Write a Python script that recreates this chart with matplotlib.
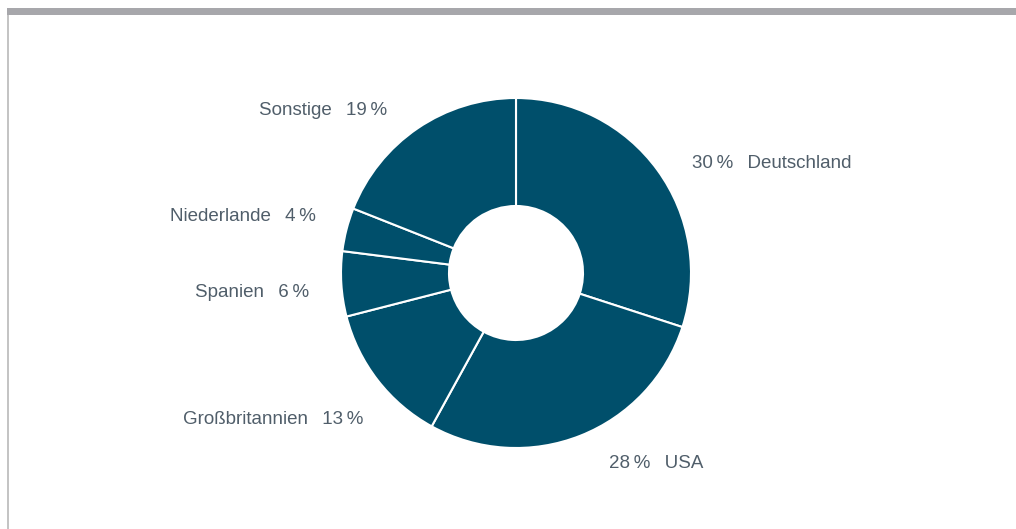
import numpy as np
import matplotlib
matplotlib.use("Agg")
import matplotlib.pyplot as plt
from matplotlib.patches import Rectangle

categories = ["Deutschland", "USA", "Großbritannien", "Spanien", "Niederlande", "Sonstige"]
values = [30, 28, 13, 6, 4, 19]

W, H = 1016, 529
fig = plt.figure(figsize=(W / 100, H / 100), dpi=100)
fig.patch.set_facecolor("white")

# frame decorations
fig.add_artist(Rectangle((7 / W, 1 - 15 / H), 1 - 7 / W, 7 / H, transform=fig.transFigure,
                         facecolor="#a7a7ab", edgecolor="none"))
fig.add_artist(Rectangle((7 / W, 0), 2 / W, 1 - 15 / H, transform=fig.transFigure,
                         facecolor="#c4c4c4", edgecolor="none"))

cx, cy, R = 516, 273, 175
ax = fig.add_axes([(cx - R) / W, (H - cy - R) / H, 2 * R / W, 2 * R / H])
ax.set_xlim(-1, 1)
ax.set_ylim(-1, 1)
ax.set_aspect("equal")
ax.axis("off")

color = "#004f6b"
wedges, _ = ax.pie(values, startangle=90, counterclock=False, radius=1,
                   colors=[color] * len(values),
                   wedgeprops=dict(width=1 - 67 / 175, edgecolor="white", linewidth=1.5))
ax.set_xlim(-1, 1)
ax.set_ylim(-1, 1)

# label anchor positions (layout, in pie-radius units)
label_pos = [(1.006, 0.625), (0.531, -1.089), (-0.874, -0.838),
             (-1.183, -0.112), (-1.143, 0.322), (-0.737, 0.928)]

txt_color = "#505e6a"
for (x, y), cat, v in zip(label_pos, categories, values):
    if x >= 0:
        s = f"{v}\u2009%  \u2009{cat}"
        ha = "left"
    else:
        s = f"{cat}  \u2009{v}\u2009%"
        ha = "right"
    ax.text(x, y, s, ha=ha, va="center", fontsize=13.5, color=txt_color,
            family=["Liberation Sans", "DejaVu Sans"], clip_on=False)

fig.savefig("out.png", dpi=100, facecolor="white")
